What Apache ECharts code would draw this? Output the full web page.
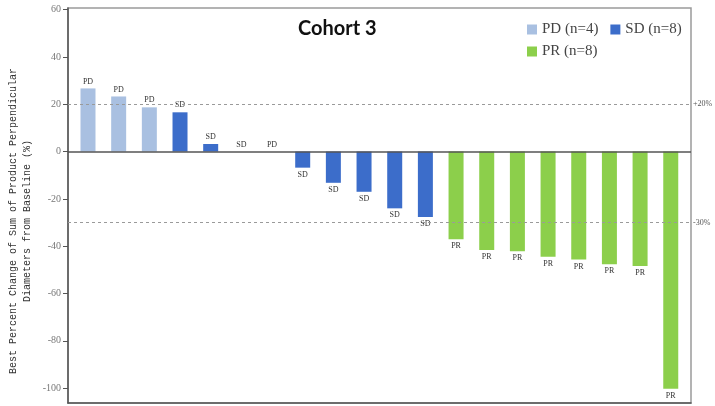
<!DOCTYPE html>
<html>
<head>
<meta charset="utf-8">
<script src="https://cdn.jsdelivr.net/npm/echarts@6/dist/echarts.min.js"></script>
<style>html,body{margin:0;padding:0;background:#fff;}#c{width:715px;height:406px;}</style>
</head>
<body>
<div id="c"></div>
<script>
// Data
const responses = ['PD','PD','PD','SD','SD','SD','PD','SD','SD','SD','SD','SD','PR','PR','PR','PR','PR','PR','PR','PR'];
const changes = [26.7, 23.3, 18.7, 16.6, 3.2, 0, 0, -6.8, -13.2, -17.0, -24.0, -27.7, -37.1, -41.6, -42.1, -44.5, -45.6, -47.6, -48.4, -100.3];
const groups = ['PD', 'SD', 'PR'];
const groupNames = ['PD (n=4)', 'SD (n=8)', 'PR (n=8)'];
const yTicks = [60, 40, 20, 0, -20, -40, -60, -80, -100];
const refLines = [20, -30];
const refLabels = ['+20%', '-30%'];

const colors = { PD: '#a9c0e1', SD: '#3c6dca', PR: '#8ccf4b' };
const serif = '"Liberation Serif", "DejaVu Serif", serif';

function seriesFor(g, gi) {
  const data = [];
  changes.forEach((v, i) => {
    if (responses[i] === g) {
      data.push({ value: [i, v], label: { position: v < 0 ? 'bottom' : 'top' } });
    }
  });
  const s = {
    name: groupNames[gi],
    type: 'bar',
    barWidth: 15,
    barGap: '-100%',
    itemStyle: { color: colors[g] },
    label: {
      show: true,
      formatter: g,
      fontFamily: serif,
      fontSize: 8,
      color: '#333',
      distance: 3
    },
    emphasis: { disabled: true },
    data: data
  };
  if (gi === 0) {
    s.markLine = {
      silent: true,
      symbol: 'none',
      data: refLines.map((y, k) => ({
        yAxis: y,
        lineStyle: { type: [3, 3], color: '#9a9a9a', width: 1 },
        label: { show: true, position: 'end', formatter: refLabels[k], fontFamily: serif, fontSize: 8, color: '#555', distance: 2 }
      })).concat([{
        yAxis: 0,
        lineStyle: { type: 'solid', color: '#555', width: 1.5 },
        label: { show: false }
      }])
    };
  }
  return s;
}

const chart = echarts.init(document.getElementById('c'), null, { renderer: 'canvas' });
chart.setOption({
  animation: false,
  backgroundColor: '#fff',
  title: {
    text: 'Cohort 3',
    left: 298,
    top: 19,
    padding: 0,
    textStyle: { fontFamily: 'Lato, "Open Sans", sans-serif', fontWeight: 'bold', fontSize: 20, color: '#111' }
  },
  legend: [
    {
      data: [groupNames[0], groupNames[1]],
      left: 527, top: 22, padding: 0,
      icon: 'rect', itemWidth: 10, itemHeight: 10, itemGap: 12,
      textStyle: { fontFamily: serif, fontSize: 15, color: '#444' }
    },
    {
      data: [groupNames[2]],
      left: 527, top: 44, padding: 0,
      icon: 'rect', itemWidth: 10, itemHeight: 10, itemGap: 12,
      textStyle: { fontFamily: serif, fontSize: 15, color: '#444' }
    }
  ],
  grid: {
    left: 68, right: 24, top: 8, bottom: 3,
    show: true, borderColor: '#9a9a9a', borderWidth: 1.5,
    containLabel: false
  },
  xAxis: {
    type: 'value',
    min: -0.652,
    max: 19.66,
    axisLine: { show: true, onZero: false, lineStyle: { color: '#555', width: 1.5 } },
    axisTick: { show: false },
    axisLabel: { show: false },
    splitLine: { show: false }
  },
  yAxis: {
    type: 'value',
    min: -106.3,
    max: 60.7,
    axisLine: { show: true, onZero: false, lineStyle: { color: '#555', width: 1.5 } },
    axisTick: { show: true, length: 5, customValues: yTicks, lineStyle: { color: '#555' } },
    axisLabel: { customValues: yTicks, fontFamily: serif, fontSize: 10, color: '#777', margin: 7 },
    splitLine: { show: false }
  },
  graphic: [{
    type: 'text',
    x: 20, y: 221,
    rotation: Math.PI / 2,
    style: {
      text: 'Best Percent Change of Sum of Product Perpendicular\nDiameters from Baseline (%)',
      fontFamily: '"Liberation Mono", "DejaVu Sans Mono", monospace',
      fontSize: 10,
      lineHeight: 14,
      fill: '#333',
      textAlign: 'center',
      textVerticalAlign: 'middle'
    }
  }],
  series: groups.map(seriesFor)
});
</script>
</body>
</html>
